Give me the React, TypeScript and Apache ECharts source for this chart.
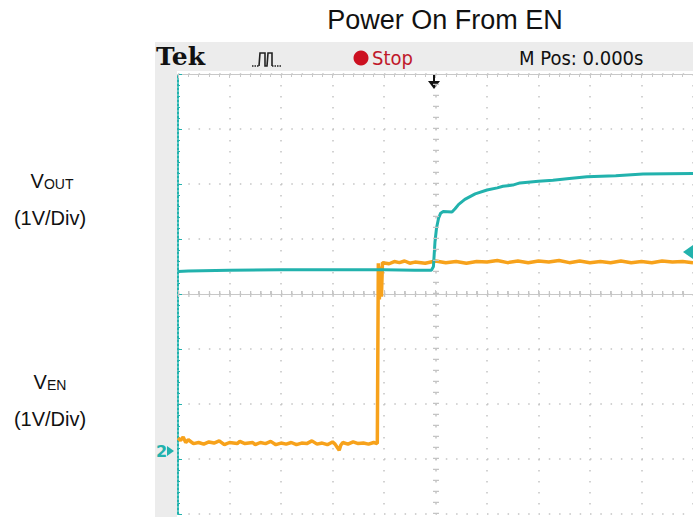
import React, { useEffect, useRef } from "react";
import * as echarts from "echarts";

// Values in screen divisions: x 0..10 (time), y -4..4 (volts, 1V/Div)
const voutData: [number, number][] = [
  [0, 0.41], [0.2, 0.42], [1, 0.43], [2, 0.44], [3, 0.44], [4, 0.44], [4.6, 0.43],
  [4.92, 0.43], [4.96, 0.5], [4.99, 0.95], [5.02, 1.2], [5.06, 1.38], [5.1, 1.47],
  [5.15, 1.5], [5.32, 1.49], [5.38, 1.55], [5.45, 1.63], [5.57, 1.72], [5.77, 1.82],
  [6.0, 1.89], [6.2, 1.93], [6.31, 1.96], [6.5, 1.98], [6.64, 2.02], [7.0, 2.05],
  [7.28, 2.07], [7.6, 2.1], [7.94, 2.13], [8.5, 2.15], [9.03, 2.18], [10, 2.19],
];
const venData: [number, number][] = [
  [0, -2.62], [0.05, -2.66], [0.1, -2.6], [0.15, -2.7], [0.2, -2.65], [0.3, -2.72],
  [0.4, -2.7], [0.5, -2.73], [0.6, -2.69], [0.7, -2.71], [0.8, -2.67], [0.9, -2.74],
  [1.0, -2.7], [1.15, -2.72], [1.2, -2.68], [1.3, -2.72], [1.45, -2.7], [1.5, -2.74],
  [1.6, -2.7], [1.7, -2.72], [1.8, -2.68], [1.9, -2.74], [2.0, -2.71], [2.1, -2.73],
  [2.2, -2.7], [2.3, -2.74], [2.4, -2.71], [2.5, -2.72], [2.6, -2.67], [2.7, -2.73],
  [2.8, -2.71], [2.9, -2.74], [3.0, -2.69], [3.05, -2.73], [3.1, -2.8], [3.13, -2.84],
  [3.16, -2.75], [3.2, -2.7], [3.3, -2.73], [3.4, -2.69], [3.5, -2.72], [3.6, -2.71],
  [3.7, -2.73], [3.8, -2.7], [3.87, -2.72],
  [3.89, 0.56], [3.91, -0.1], [3.93, 0.5], [3.95, -0.05], [3.97, 0.57],
  [4.1, 0.55], [4.2, 0.59], [4.3, 0.57], [4.4, 0.6], [4.5, 0.56], [4.6, 0.58],
  [4.8, 0.56], [5.0, 0.6], [5.2, 0.57], [5.4, 0.59], [5.6, 0.56], [5.8, 0.59],
  [6.0, 0.58], [6.2, 0.61], [6.4, 0.57], [6.6, 0.6], [6.8, 0.57], [7.0, 0.6],
  [7.2, 0.58], [7.4, 0.61], [7.6, 0.57], [7.8, 0.6], [8.0, 0.57], [8.2, 0.59],
  [8.4, 0.57], [8.6, 0.6], [8.8, 0.57], [9.0, 0.59], [9.2, 0.57], [9.4, 0.6],
  [9.6, 0.58], [9.8, 0.59], [10, 0.57],
];
const title = "Power On From EN";
const voutLabel = "OUT";
const venLabel = "EN";
const divLabel = "(1V/Div)";

const TEAL = "#22b2ad";
const ORANGE = "#f7a21b";
const DOT = "#c4c4c4";
const LABEL_FONT = '"Liberation Sans", Arial, sans-serif';
const COND_FONT = '"DejaVu Sans Condensed", "DejaVu Sans", sans-serif';

export default function App() {
  const ref = useRef<HTMLDivElement>(null);
  useEffect(() => {
    const chart = echarts.init(ref.current!, undefined, { renderer: "svg" });
    const subLabel = (x: number, y: number, sub: string) => ({
      type: "text", x, y,
      style: {
        text: "{v|V}{s|" + sub + "}", align: "center", verticalAlign: "middle",
        rich: {
          v: { font: "20px " + LABEL_FONT, fill: "#111" },
          s: { font: "14px " + LABEL_FONT, fill: "#111", verticalAlign: "bottom", padding: [5, 0, 0, 0] },
        },
      },
    });
    const divText = (x: number, y: number) => ({
      type: "text", x, y,
      style: { text: divLabel, font: "20px " + LABEL_FONT, fill: "#111", align: "center", verticalAlign: "middle" },
    });
    chart.setOption({
      animation: false,
      backgroundColor: "#fff",
      grid: { left: 178, top: 74, width: 515, height: 440 },
      xAxis: [
        {
          type: "value", min: 0, max: 10, interval: 1,
          axisLabel: { show: false },
          axisLine: { show: true, lineStyle: { color: "#c8c8c8", width: 1 } },
          axisTick: { show: true, inside: true, length: 4, lineStyle: { color: "#c8c8c8" } },
          minorTick: { show: true, splitNumber: 5, length: 3, lineStyle: { color: "#c8c8c8" } },
          splitLine: { show: true, lineStyle: { color: DOT, width: 1.5, type: [1.5, 9.5] } },
        },
        {
          type: "value", min: 0, max: 10, interval: 1, position: "top",
          axisLabel: { show: false },
          axisLine: { show: true, lineStyle: { color: "#c8c8c8", width: 1 } },
          axisTick: { show: true, inside: true, length: 4, lineStyle: { color: "#c8c8c8" } },
          minorTick: { show: true, splitNumber: 5, length: 3, lineStyle: { color: "#c8c8c8" } },
          splitLine: { show: false },
        },
      ],
      yAxis: {
        type: "value", min: -4, max: 4, interval: 1,
        axisLabel: { show: false },
        axisLine: { show: true, lineStyle: { color: TEAL, width: 2, type: [2, 2] } },
        axisTick: { show: true, inside: true, length: 4, lineStyle: { color: TEAL } },
        minorTick: { show: true, splitNumber: 5, length: 2, lineStyle: { color: TEAL } },
        splitLine: { show: true, lineStyle: { color: DOT, width: 1.5, type: [1.5, 8.8] } },
      },
      series: [
        {
          type: "line", data: [], xAxisIndex: 0, silent: true,
          markLine: {
            symbol: "none", silent: true, label: { show: false },
            data: [
              { yAxis: 0, lineStyle: { color: "#c4c4c4", width: 6, type: [1.2, 9.1] } },
              { xAxis: 5, lineStyle: { color: "#c4c4c4", width: 6, type: [1.2, 9.8] } },
            ],
          },
        },
        {
          type: "line", data: venData, showSymbol: false, silent: true,
          lineStyle: { color: ORANGE, width: 3.5 }, z: 3,
        },
        {
          type: "line", data: voutData, showSymbol: false, silent: true,
          lineStyle: { color: TEAL, width: 3 }, z: 4,
        },
      ],
      graphic: [
        { type: "rect", shape: { x: 155, y: 42, width: 538, height: 29 }, style: { fill: "#ececec" }, z: 0 },
        { type: "rect", shape: { x: 155, y: 42, width: 22, height: 475 }, style: { fill: "#ececec" }, z: 0 },
        {
          type: "text", x: 445, y: 20,
          style: { text: title, font: "27px " + LABEL_FONT, fill: "#111", align: "center", verticalAlign: "middle" },
        },
        {
          type: "text", x: 156, y: 44,
          style: { text: "Tek", font: 'bold 25px "DejaVu Serif", serif', fill: "#111" },
        },
        {
          type: "polyline",
          shape: { points: [[252, 66], [259, 66]] },
          style: { stroke: "#222", lineWidth: 1.5, fill: null, lineDash: [1.5, 1] },
        },
        {
          type: "polyline",
          shape: { points: [[259, 66], [260, 53], [265, 53], [265, 66], [267, 66], [268, 53], [272, 53], [272, 66]] },
          style: { stroke: "#222", lineWidth: 1.6, fill: null },
        },
        {
          type: "polyline",
          shape: { points: [[272, 66], [282, 66]] },
          style: { stroke: "#222", lineWidth: 1.5, fill: null, lineDash: [1.5, 1] },
        },
        { type: "circle", shape: { cx: 361, cy: 58, r: 7.5 }, style: { fill: "#cc1020" } },
        {
          type: "text", x: 372, y: 58,
          style: { text: "Stop", font: "20px " + COND_FONT, fill: "#c0182a", verticalAlign: "middle" },
        },
        {
          type: "text", x: 519, y: 58,
          style: { text: "M Pos: 0.000s", font: "20px " + COND_FONT, fill: "#111", verticalAlign: "middle" },
        },
        { type: "line", shape: { x1: 434, y1: 74, x2: 434, y2: 84 }, style: { stroke: "#111", lineWidth: 2 } },
        { type: "polygon", shape: { points: [[428, 81], [440, 81], [434, 89]] }, style: { fill: "#111" } },
        { type: "polygon", shape: { points: [[683, 252], [693, 245], [693, 259]] }, style: { fill: TEAL }, z: 10 },
        {
          type: "text", x: 156, y: 451,
          style: { text: "2", font: 'bold 16px "DejaVu Sans", sans-serif', fill: TEAL, verticalAlign: "middle" },
        },
        { type: "polygon", shape: { points: [[167, 446], [167, 456], [174, 451]] }, style: { fill: TEAL } },
        subLabel(52, 181, voutLabel),
        divText(50, 218),
        subLabel(50, 382, venLabel),
        divText(50, 419),
      ],
    });
    return () => chart.dispose();
  }, []);
  return <div ref={ref} style={{ position: "absolute", left: 0, top: 0, width: 693, height: 517 }} />;
}
